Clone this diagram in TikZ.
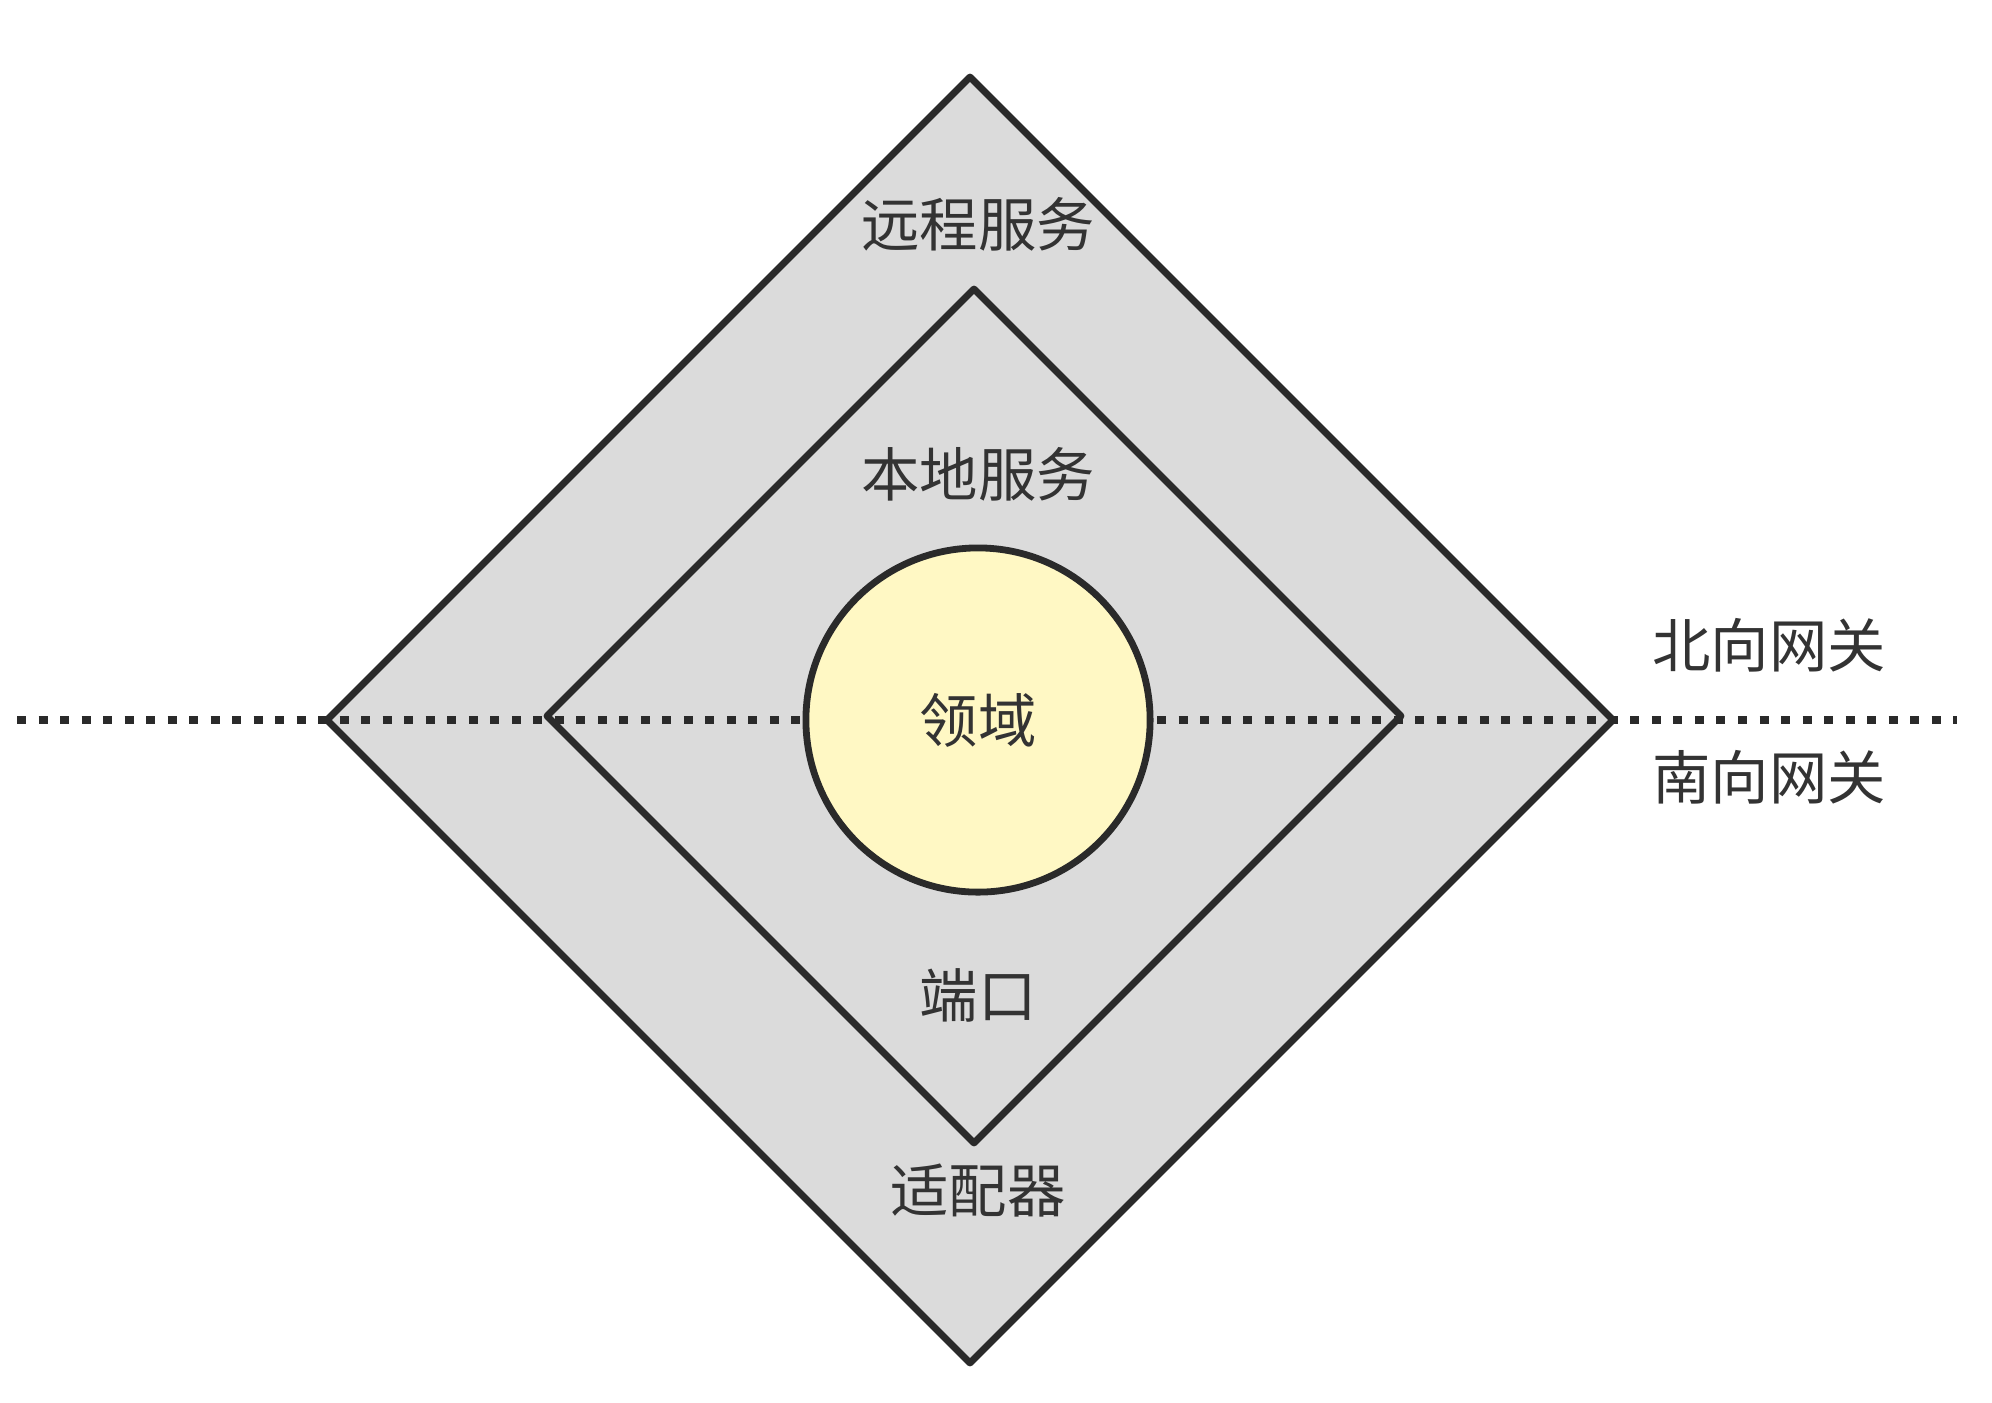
\documentclass[tikz,border=0pt]{standalone}
\usepackage{fontspec}
\setmainfont{Noto Sans CJK SC}
\definecolor{linegray}{HTML}{2A2A2A}
\definecolor{boxgray}{HTML}{DBDBDB}
\definecolor{coreyellow}{HTML}{FFF8C4}
\definecolor{textgray}{HTML}{333333}
\begin{document}
\begin{tikzpicture}[x=0.01cm, y=-0.01cm, line join=round,
                    every node/.style={font=\fontsize{16.6}{20}\selectfont, text=textgray}]
    \useasboundingbox (0,0) rectangle (1992,1402);
    \filldraw[fill=boxgray, draw=linegray, line width=0.068cm] (970,77) -- (1613,720) -- (970,1363) -- (327,720) -- cycle;
    \draw[linegray, line width=0.068cm] (974,289) -- (1401,716) -- (974,1143) -- (547,716) -- cycle;

    \coordinate (west) at (17,720);
    \coordinate (east) at (1957,720);
    \draw[linegray, line width=0.085cm, dash pattern=on 0.09cm off 0.125cm] (west) -- (east);

    \node[circle, draw=linegray, fill=coreyellow, line width=0.068cm, minimum size=3.44cm, inner sep=0pt] (domain) at (978,720) {领域};

    \node (remote) at (978,224) {远程服务};
    \node (local) at (978,474) {本地服务};
    \node (port) at (978,995) {端口};
    \node (adapter) at (978,1190) {适配器};
    \node (north) at (1769,645) {北向网关};
    \node (south) at (1769,777) {南向网关};
\end{tikzpicture}
\end{document}
